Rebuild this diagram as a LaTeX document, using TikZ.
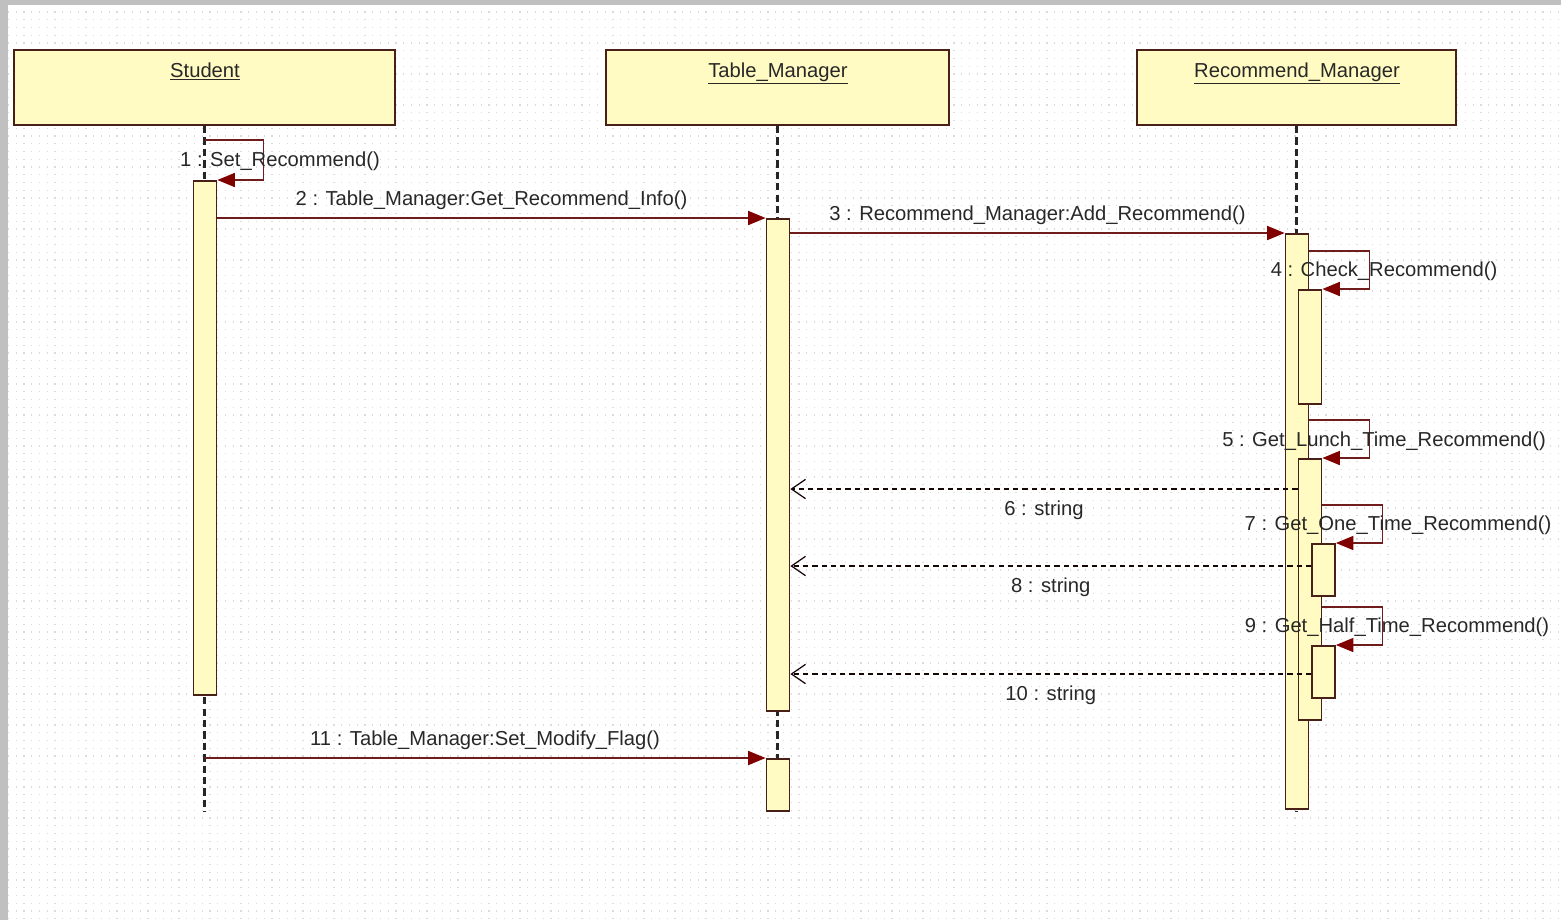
\documentclass[tikz,border=0pt]{standalone}
\usepackage{fontspec}
\setmainfont{Liberation Sans}
\usepackage{tikz}
\usetikzlibrary{arrows.meta}

\definecolor{lifebox}{RGB}{255,251,194}
\definecolor{boxline}{RGB}{72,32,24}
\definecolor{msgline}{RGB}{110,28,28}
\definecolor{tipred}{RGB}{128,0,0}
\definecolor{frame}{RGB}{192,192,192}
\definecolor{txtgray}{RGB}{40,40,40}

\tikzset{
	headbox/.style={draw=boxline, fill=lifebox, line width=1.1pt, minimum height=15mm, inner sep=0pt},
	actbar/.style={draw=boxline, fill=lifebox, line width=1pt, minimum width=4.6mm, inner sep=0pt, anchor=north},
	lifeline/.style={black!85, line width=1.2pt, dash pattern=on 4.2pt off 2.3pt},
	callmsg/.style={draw=msgline, line width=1pt, -{Triangle[length=10pt,width=8pt,color=tipred]}},
	retmsg/.style={draw=black!80!msgline, line width=0.8pt, dash pattern=on 3pt off 2.3pt, -{Straight Barb[length=8pt,width=11pt,line width=0.7pt]}},
	msgtxt/.style={text=txtgray, font=\fontsize{11.5}{13}\selectfont, inner sep=0pt},
	headtxt/.style={msgtxt, anchor=base},
	griddot/.style={black!14, line width=0.6pt, dash pattern=on 0.6pt off 3.81pt},
}

\begin{document}
\begin{tikzpicture}[x=0.2mm, y=-0.2mm]
	\useasboundingbox (0,0) rectangle (1561,920);
	\fill[frame] (0,0) rectangle (1561,920);
	\fill[white] (8,5) rectangle (1561,920);
	\foreach \gy in {12,19.75,...,920}
		\draw[griddot] (8,\gy) -- (1561,\gy);

	% objects
	\node[headbox, minimum width=76.2mm] (st) at (204.5,87.5) {};
	\node[headbox, minimum width=68.6mm] (tm) at (777.5,87.5) {};
	\node[headbox, minimum width=63.8mm] (rm) at (1296.5,87.5) {};
	\node[headtxt] (stname) at (205,77) {\underline{Student}};
	\node[headtxt] (tmname) at (778,77) {\underline{Table\_Manager}};
	\node[headtxt] (rmname) at (1297,77) {\underline{Recommend\_Manager}};

	\draw[lifeline] (st.south) -- (st.south |- 0,812);
	\draw[lifeline] (tm.south) -- (tm.south |- 0,812);
	\draw[lifeline] (rm.south) -- (rm.south |- 0,812);

	% activations
	\node[actbar, minimum height=102.8mm] (actS) at (205,180) {};
	\node[actbar, minimum height=98.4mm] (actT) at (778,218) {};
	\node[actbar, minimum height=10.4mm] (actT2) at (778,758) {};
	\node[actbar, minimum height=115mm] (actR) at (1297,233) {};
	\node[actbar, minimum height=22.8mm] (actR4) at (1310,289) {};
	\node[actbar, minimum height=52.2mm] (actR5) at (1310,458) {};
	\node[actbar, minimum height=10.4mm] (actR7) at (1323.5,543) {};
	\node[actbar, minimum height=10.4mm] (actR9) at (1323.5,645) {};

	% messages
	\draw[callmsg] (actS.north -| st.south) ++(0,-40) -| ++(59,40) -- (actS.north east);
	\draw[callmsg] (actS.east |- actT.north) -- (actT.north west)
		node[msgtxt, midway, yshift=10pt] {2 : Table\_Manager:Get\_Recommend\_Info()};
	\draw[callmsg] (actT.east |- actR.north) -- (actR.north west)
		node[msgtxt, midway, yshift=10pt] {3 : Recommend\_Manager:Add\_Recommend()};
	\draw[callmsg] (actR4.north -| actR.east) ++(0,-38) -| ++(60,38) -- (actR4.north east);
	\draw[callmsg] (actR5.north -| actR.east) ++(0,-38) -| ++(60,38) -- (actR5.north east);
	\draw[retmsg] (actR5.west |- 0,489) -- (actT.east |- 0,489)
		node[msgtxt, midway, yshift=-12pt] {6 : string};
	\draw[callmsg] (actR7.north -| actR5.east) ++(0,-38) -| ++(60,38) -- (actR7.north east);
	\draw[retmsg] (actR7.west |- 0,566) -- (actT.east |- 0,566)
		node[msgtxt, midway, yshift=-12pt] {8 : string};
	\draw[callmsg] (actR9.north -| actR5.east) ++(0,-38) -| ++(60,38) -- (actR9.north east);
	\draw[retmsg] (actR9.west |- 0,674) -- (actT.east |- 0,674)
		node[msgtxt, midway, yshift=-12pt] {10 : string};
	\draw[callmsg] (st.south |- actT2.north) -- (actT2.north west)
		node[msgtxt, midway, yshift=10pt] {11 : Table\_Manager:Set\_Modify\_Flag()};

	% self call labels
	\node[msgtxt] (m1) at (280,161) {1 : Set\_Recommend()};
	\node[msgtxt] (m4) at (1384,271) {4 : Check\_Recommend()};
	\node[msgtxt] (m5) at (1384,441) {5 : Get\_Lunch\_Time\_Recommend()};
	\node[msgtxt] (m7) at (1398,525) {7 : Get\_One\_Time\_Recommend()};
	\node[msgtxt] (m9) at (1397,627) {9 : Get\_Half\_Time\_Recommend()};
\end{tikzpicture}
\end{document}
